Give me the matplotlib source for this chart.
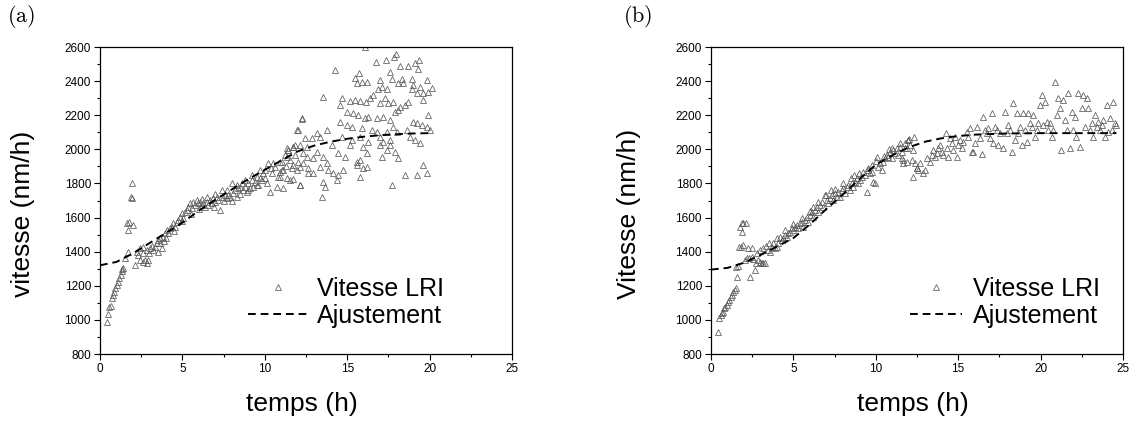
import matplotlib
matplotlib.use("Agg")
import matplotlib.pyplot as plt
from matplotlib.ticker import MultipleLocator

plt.rcParams["font.family"] = ["Liberation Sans", "DejaVu Sans"]

# ---- panel (a): measured growth speed (t in h, v in nm/h) ----
TIME_A = [
    0.40, 0.51, 0.57, 0.65, 0.71, 0.77, 0.85, 0.93, 1.01, 1.09, 1.17, 1.25, 1.33, 1.42, 1.31,
    1.62, 1.68, 1.78, 2.02, 1.88, 1.96, 1.92, 1.72, 1.52,
    2.12, 2.43, 2.63, 2.83, 2.93, 2.73, 2.33, 2.22, 2.43, 2.63, 2.83, 3.03, 3.13, 3.24, 3.34,
    3.44, 3.54, 3.64, 3.74, 3.64, 3.84, 3.94, 4.05, 4.15, 4.25, 4.35, 4.45, 4.55, 4.65, 4.75,
    4.85, 4.96, 5.06, 5.16, 5.26, 5.36, 5.46, 5.56, 5.66, 5.76, 5.87, 5.97, 6.07, 6.17, 6.27,
    6.37, 6.47, 6.57, 6.67, 6.78, 6.88, 6.98, 7.08, 7.18, 7.28, 7.38, 7.48, 7.58, 7.69, 7.79,
    7.89, 7.99, 8.09, 8.19, 8.29, 8.39, 8.50, 8.60, 8.70, 8.80, 8.90, 9.00, 9.10, 9.20, 9.30,
    9.41, 9.51, 9.61, 9.71, 9.81, 9.91, 10.01, 10.11, 10.21, 10.31, 10.42, 10.52, 10.62, 10.72,
    10.82, 10.92, 11.02, 11.12, 11.23, 11.33, 11.43, 11.53, 11.63, 11.73, 11.83, 11.93, 12.04,
    12.14, 12.24, 12.34, 12.44, 12.54, 12.64,
    5.0, 5.5, 6.0, 6.5, 7.0, 7.5, 8.0, 8.5, 9.0, 9.5, 10.0, 3.0, 3.5, 4.0, 4.5, 2.6, 3.9, 6.2,
    6.9, 7.7, 8.3, 8.8, 9.2, 9.7, 10.4, 10.9, 11.3,
    16.08, 17.96, 17.86, 17.35, 16.75, 14.26, 15.74, 19.38, 19.11, 18.71, 19.32, 18.20, 17.60,
    15.47, 15.61, 15.88, 16.22, 16.99, 17.09, 16.89, 17.39, 17.70, 18.30, 18.41, 18.10, 18.91,
    19.01, 19.42, 19.82, 20.13, 19.92, 19.62, 19.21, 18.91, 13.55,
    14.68, 14.58, 15.18, 15.47, 15.78, 16.14, 16.38, 16.59, 16.99, 17.29, 17.49, 17.80, 18.20,
    18.51, 18.71, 18.10, 17.90, 14.97, 15.37, 15.68, 16.08, 16.28, 16.79, 17.20, 17.60, 19.62,
    19.92, 12.24, 11.93,
    14.56, 14.97, 15.27, 13.76, 13.15, 13.35, 12.84, 12.54, 12.14, 11.73, 11.43, 15.88, 16.48,
    16.79, 16.99, 17.39, 17.80, 18.00, 18.61, 19.01, 19.21, 19.52, 19.82, 20.03, 18.81, 19.11,
    19.42, 14.06, 14.68, 15.27, 15.78, 16.28, 17.20, 17.60,
    11.33, 11.83, 12.34, 12.95, 13.15, 13.55, 14.47, 14.87, 15.17, 15.98, 16.18, 16.99, 17.60,
    17.90, 17.39, 17.09, 18.10, 15.57, 15.78, 11.02, 11.53, 12.03,
    11.13, 11.73, 12.14, 12.64, 12.95, 13.35, 13.76, 13.86, 14.16, 14.47, 14.77, 15.57, 15.98,
    16.18, 15.78, 14.36, 10.92, 11.33, 11.73, 12.14, 13.55, 13.65, 13.45, 19.62, 19.21, 19.82,
    18.51, 17.70,
]
SPEED_A = [
    990, 1033, 1078, 1082, 1127, 1146, 1166, 1185, 1205, 1224, 1244, 1264, 1289, 1307, 1297,
    1570, 1527, 1576, 1557, 1723, 1717, 1801, 1400, 1365,
    1322, 1351, 1342, 1336, 1351, 1351, 1381, 1400, 1420, 1430, 1410, 1420, 1433, 1410, 1430,
    1449, 1469, 1449, 1420, 1478, 1488, 1508, 1527, 1508, 1537, 1547, 1566, 1547, 1576, 1586,
    1605, 1625, 1596, 1635, 1645, 1664, 1684, 1654, 1693, 1674, 1703, 1684, 1693, 1674, 1684,
    1664, 1693, 1674, 1703, 1684, 1713, 1693, 1723, 1703, 1645, 1762, 1723, 1732, 1713, 1732,
    1723, 1801, 1742, 1762, 1723, 1772, 1781, 1801, 1762, 1781, 1752, 1801, 1772, 1820, 1781,
    1811, 1840, 1791, 1879, 1820, 1860, 1830, 1801, 1918, 1752, 1860, 1918, 1899, 1781,
    1840, 1928, 1879, 1772, 1967, 2006, 1996, 1820, 1889, 2016, 2026, 1879, 2113,
    1791, 2182, 1918, 2065, 1957, 1860,
    1580, 1620, 1650, 1720, 1740, 1700, 1700, 1740, 1760, 1790, 1880, 1390, 1400, 1480, 1520, 1395, 1460, 1710,
    1660, 1760, 1790, 1820, 1850, 1830, 1890, 1870, 1900,
    2598, 2559, 2543, 2524, 2510, 2465, 2450, 2524, 2504, 2491, 2469, 2489, 2452,
    2416, 2391, 2397, 2397, 2407, 2367, 2352, 2352, 2410, 2410, 2387, 2387, 2410,
    2377, 2367, 2407, 2358, 2338, 2328, 2328, 2352, 2309,
    2299, 2260, 2285, 2289, 2285, 2280, 2299, 2319, 2274, 2299, 2270, 2280, 2250,
    2260, 2280, 2231, 2221, 2221, 2215, 2201, 2182, 2188, 2182, 2192, 2172, 2289,
    2201, 2176, 2113,
    2162, 2143, 2133, 2113, 2094, 2074, 2064, 2016, 2026, 2016, 1996, 2123, 2113,
    2104, 2074, 2104, 2133, 2104, 2113, 2162, 2152, 2143, 2133, 2113, 2074, 2055,
    2035, 2026, 2074, 2055, 2074, 2045, 2045, 2055,
    1957, 1967, 1977, 1947, 1986, 1957, 1977, 1957, 2026, 2016, 1977, 2026, 2026,
    1986, 1996, 1957, 1947, 1928, 1938, 1928, 1938, 1928,
    1879, 1908, 1899, 1889, 1860, 1899, 1918, 1879, 1860, 1850, 1879, 1908, 1889,
    1899, 1840, 1820, 1840, 1830, 1824, 1791, 1811, 1781, 1723, 1908, 1850, 1860,
    1850, 1791,
]
FIT_T_A = [0, 1, 2, 3, 4, 5, 6, 7, 8, 9, 10, 11, 12, 13, 14, 15, 16, 17, 18, 19, 20]
FIT_A = [1320, 1340, 1390, 1450, 1510, 1570, 1640, 1705, 1765, 1825, 1880, 1935, 1988,
         2022, 2045, 2062, 2074, 2083, 2089, 2093, 2095]

# ---- panel (b) ----
TIME_B = [
    0.44, 0.51, 0.59, 0.65, 0.71, 0.79, 0.87, 0.95, 1.05, 1.11, 1.19, 1.27, 1.36, 1.44, 1.50,
    1.76, 1.86, 1.96, 2.12, 1.90, 1.70, 1.80, 1.96, 2.27, 2.47,
    1.56, 2.37, 1.52, 1.66, 2.06, 2.16, 2.33, 2.47, 2.57, 2.67, 2.73, 2.87, 2.97, 3.07, 3.18,
    3.28, 2.77, 2.97, 3.18, 3.34, 3.48, 3.58, 3.68, 3.78, 3.88, 3.98, 4.09, 4.19, 4.29, 4.39,
    4.49, 4.59, 4.69, 4.79, 4.89, 5.00, 5.10, 5.20, 5.30, 5.40, 5.50, 5.60, 5.70, 5.80, 5.91,
    6.01, 6.11, 6.21, 6.31, 6.41, 6.51, 6.61, 6.71, 6.82, 6.92, 7.02, 7.12, 7.22, 7.32, 7.42,
    7.52, 7.63, 7.73, 7.83, 7.93, 8.03, 8.13, 8.23, 8.33, 8.43, 8.54, 8.64, 8.74, 8.84, 8.94,
    9.04, 9.14, 9.24, 9.34, 9.45, 9.55, 9.65, 9.75, 9.85, 9.95, 10.05, 10.15, 10.25, 10.36,
    10.46, 10.56, 10.66, 10.76, 10.86, 10.96, 11.06, 11.17, 11.27, 11.37, 11.47, 11.57, 11.67,
    11.77, 11.87, 11.97, 12.08, 12.18, 12.28, 12.38, 12.48, 12.58,
    5.0, 5.5, 6.0, 6.5, 7.0, 7.5, 8.0, 8.5, 9.0, 9.5, 10.0, 10.5, 11.0, 4.5, 4.0, 3.5, 6.2,
    7.3, 8.7, 9.8, 10.8, 11.5, 12.0, 12.3,
    11.77, 11.98, 12.28, 11.57, 11.67, 11.87, 12.48, 12.68, 12.88, 12.99, 13.09, 13.29,
    13.39, 13.49, 13.59, 13.69, 13.79, 13.90, 14.00, 14.10, 14.26, 14.30, 14.40, 14.50, 14.60,
    14.70, 14.80, 14.91, 15.01, 15.11, 15.21, 15.31, 15.51, 15.61, 15.71, 15.81, 15.91, 16.01,
    16.15, 16.32, 16.42, 16.52, 16.62, 16.72, 16.82, 16.92, 17.03, 17.13, 17.23, 17.33, 17.43,
    17.53, 17.74, 17.84, 17.94, 18.04, 18.14, 18.24, 18.34, 18.44, 18.55, 18.65, 18.75, 18.85,
    18.95, 19.05, 19.15, 19.25, 19.35, 19.45, 19.56, 19.66, 19.76, 19.86, 19.96, 20.06, 20.16,
    20.26, 20.36, 20.47, 20.57, 20.67, 20.77, 20.87, 20.97, 21.07, 21.17, 21.27, 21.37, 21.48,
    21.58, 21.68, 21.78, 21.88, 21.98, 22.08, 22.18, 22.28, 22.39, 22.49, 22.59, 22.69, 22.79,
    22.89, 22.99, 23.10, 23.20, 23.30, 23.40, 23.50, 23.60, 23.70, 23.81, 23.91, 24.01, 24.11,
    24.21, 24.31, 24.41, 24.52, 24.60,
]
SPEED_B = [
    931, 1009, 1029, 1039, 1048, 1068, 1078, 1088, 1107, 1117, 1137, 1146, 1166, 1176, 1185,
    1547, 1566, 1570, 1570, 1518, 1430, 1426, 1439, 1420, 1420,
    1254, 1254, 1309, 1316, 1351, 1361, 1365, 1371, 1355, 1293, 1332, 1351, 1342, 1332, 1336,
    1332, 1391, 1410, 1420, 1433, 1410, 1400, 1430, 1449, 1420, 1430, 1449, 1488, 1469, 1478,
    1498, 1488, 1508, 1517, 1537, 1527, 1547, 1557, 1537, 1566, 1576, 1547, 1586, 1605, 1576,
    1615, 1635, 1605, 1645, 1664, 1635, 1674, 1693, 1664, 1732, 1703, 1684, 1713, 1732, 1703,
    1742, 1723, 1752, 1723, 1762, 1772, 1742, 1781, 1791, 1762, 1801, 1781, 1811, 1830, 1801,
    1820, 1840, 1869, 1850, 1752, 1879, 1860, 1908, 1811, 1801, 1957, 1899, 1918, 1879,
    1928, 1947, 1967, 1957, 1986, 1947, 1996, 1977, 2006, 1967, 2016, 1986, 1938,
    2035, 2006, 2055, 2026, 1938, 1840, 1918, 1889, 1879,
    1560, 1600, 1640, 1690, 1730, 1770, 1800, 1830, 1860, 1890, 1930, 1960, 2010, 1530, 1480, 1450, 1660,
    1760, 1850, 1870, 2000, 2040, 2060, 2070,
    2006, 2055, 1996, 1947, 1918, 1928, 1889, 1918, 1860, 1879, 1947, 1928,
    1967, 1996, 1957, 1977, 2006, 2026, 1986, 1967, 2094, 2006, 1957, 2065, 2035,
    1996, 2074, 1957, 2026, 2055, 2006, 2045, 2104, 2074, 2123, 1986, 1986, 2035,
    2133, 2065, 1971, 2192, 2113, 2094, 2123, 2065, 2211, 2035, 2133, 2113, 2026,
    2094, 2006, 2221, 2094, 2143, 2113, 1986, 2270, 2055, 2211, 2094, 2133, 2026,
    2211, 2113, 2045, 2211, 2152, 2133, 2201, 2074, 2113, 2152, 2260, 2319, 2143,
    2280, 2162, 2113, 2152, 2074, 2113, 2397, 2201, 2299, 2241, 1996, 2289, 2172,
    2113, 2328, 2006, 2221, 2113, 2192, 2074, 2328, 2016, 2241, 2319, 2133, 2299,
    2241, 2113, 2152, 2074, 2201, 2133, 2162, 2113, 2143, 2172, 2074, 2260, 2104,
    2182, 2113, 2280, 2152, 2140,
]
FIT_T_B = [0, 1, 2, 3, 4, 5, 6, 7, 8, 9, 10, 11, 12, 13, 14, 15, 16, 17, 18, 19, 20,
           21, 22, 23, 24, 24.6]
FIT_B = [1295, 1305, 1335, 1380, 1430, 1480, 1560, 1650, 1735, 1825, 1910, 1965, 2012,
         2045, 2065, 2078, 2086, 2090, 2093, 2094, 2095, 2095, 2095, 2095, 2095, 2095]

PANELS = ["(a)", "(b)"]
YLABELS = ["vitesse (nm/h)", "Vitesse (nm/h)"]
LEGEND_LABELS = ["Vitesse LRI", "Ajustement"]

MARKER_EDGE = "#5a5a5a"


def style_axes(ax):
    ax.set_xlim(0, 25)
    ax.set_ylim(800, 2600)
    ax.xaxis.set_major_locator(MultipleLocator(5))
    ax.xaxis.set_minor_locator(MultipleLocator(2.5))
    ax.yaxis.set_major_locator(MultipleLocator(200))
    ax.yaxis.set_minor_locator(MultipleLocator(100))
    ax.tick_params(which="both", direction="out", top=False, right=False,
                   width=0.8, labelsize=8.5, pad=2)
    ax.tick_params(which="major", length=4.5)
    ax.tick_params(which="minor", length=2.5)
    for sp in ax.spines.values():
        sp.set_linewidth(0.9)
    ax.set_xlabel("temps (h)", fontsize=19)
    ax.xaxis.set_label_coords(0.49, -0.125)


def main():
    fig = plt.figure(figsize=(11.35, 4.22), dpi=100)
    fig.patch.set_facecolor("white")

    ax_a = fig.add_axes([0.0881, 0.1611, 0.3630, 0.7275])
    ax_b = fig.add_axes([0.6264, 0.1611, 0.3630, 0.7275])

    setups = [
        (ax_a, TIME_A, SPEED_A, FIT_T_A, FIT_A, 0.835, 2.4, 0.35, -0.158),
        (ax_b, TIME_B, SPEED_B, FIT_T_B, FIT_B, 0.945, 2.1, 0.45, -0.170),
    ]
    for i, (ax, t, v, ft, fv, leg_x, hl, htp, ylab_x) in enumerate(setups):
        pts, = ax.plot(t, v, linestyle="none", marker="^", markersize=3.7,
                       markerfacecolor="none", markeredgecolor=MARKER_EDGE,
                       markeredgewidth=0.55, zorder=2)
        fit, = ax.plot(ft, fv, color="black", linewidth=1.4,
                       linestyle=(0, (4, 2.5)), zorder=3)
        style_axes(ax)
        ax.set_ylabel(YLABELS[i], fontsize=19)
        ax.yaxis.set_label_coords(ylab_x, 0.455)
        ax.legend([pts, fit], LEGEND_LABELS, loc="lower right",
                  bbox_to_anchor=(leg_x, 0.085), frameon=False, fontsize=18,
                  handlelength=hl, handletextpad=htp, labelspacing=0.12,
                  borderpad=0, borderaxespad=0, numpoints=1)

    fig.text(0.0185, 0.96, r"$\mathrm{(a)}$", fontsize=16, math_fontfamily="cm",
             ha="center", va="center")
    fig.text(0.562, 0.96, r"$\mathrm{(b)}$", fontsize=16, math_fontfamily="cm",
             ha="center", va="center")

    fig.savefig("out.png", dpi=100)
    plt.close(fig)


if __name__ == "__main__":
    main()
